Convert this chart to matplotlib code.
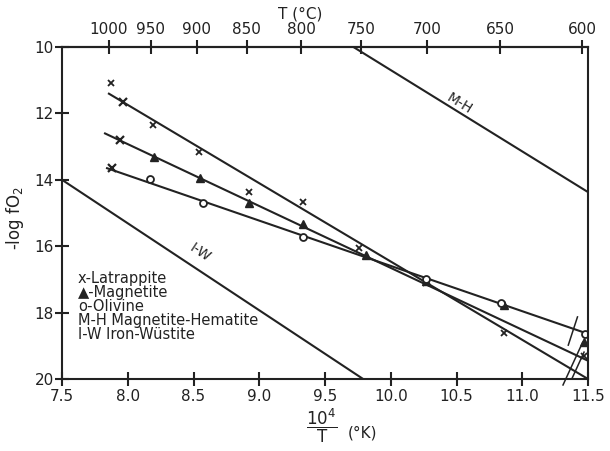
import matplotlib
matplotlib.use("Agg")
from matplotlib import pyplot as plt
import numpy as np

plt.rcParams['font.family'] = ['DejaVu Sans']
plt.rcParams['mathtext.default'] = 'regular'

# measured points, x = 10^4/T (K), y = -log fO2
latr_x = [7.87, 8.19, 8.54, 8.92, 9.33, 9.755, 10.27, 10.86, 11.47]
latr_y = [11.08, 12.35, 13.16, 14.37, 14.67, 16.06, 17.1, 18.61, 19.3]
mag_x = [8.2, 8.55, 8.92, 9.33, 9.81, 10.27, 10.86, 11.47]
mag_y = [13.31, 13.95, 14.7, 15.33, 16.27, 17.05, 17.77, 18.9]
oliv_x = [8.17, 8.57, 9.33, 10.27, 10.84, 11.48]
oliv_y = [13.98, 14.7, 15.73, 17.0, 17.72, 18.64]
# crosses at the hot end of each fit
cross_x = [7.965, 7.94, 7.88]
cross_y = [11.66, 12.8, 13.64]

# fitted lines (end points)
latr_fit_x = [7.85, 11.5]
latr_fit_y = [11.39, 20.0]
mag_fit_x = [7.82, 11.5]
mag_fit_y = [12.59, 19.45]
oliv_fit_x = [7.835, 11.5]
oliv_fit_y = [13.64, 18.64]

# buffers
mh_x = [9.716, 11.5]
mh_y = [10.0, 14.37]
iw_x = [7.5, 9.79]
iw_y = [14.0, 20.0]

# slanted error bars at 600 C
err_x = [[11.42, 11.35], [11.46, 11.31], [11.47, 11.38]]
err_y = [[18.13, 18.98], [18.89, 20.18], [19.19, 19.97]]

t_ticks = [1000, 950, 900, 850, 800, 750, 700, 650, 600]
x_ticks = [7.5, 8.0, 8.5, 9.0, 9.5, 10.0, 10.5, 11.0, 11.5]
y_ticks = [10, 12, 14, 16, 18, 20]

legend_lines = ['x-Latrappite', '\u25b2-Magnetite', 'o-Olivine',
                'M-H Magnetite-Hematite', 'I-W Iron-W\u00fcstite']

fig = plt.figure(figsize=(6.1, 4.51), dpi=100)
ax = fig.add_axes([62/610, 1-379/451, 526/610, 332/451])
lw = 1.5
k = '#222222'

ax.plot(latr_fit_x, latr_fit_y, color=k, lw=lw, solid_capstyle='butt')
ax.plot(mag_fit_x, mag_fit_y, color=k, lw=lw, solid_capstyle='butt')
ax.plot(oliv_fit_x, oliv_fit_y, color=k, lw=lw, solid_capstyle='butt')
ax.plot(mh_x, mh_y, color=k, lw=lw)
ax.plot(iw_x, iw_y, color=k, lw=lw)
for ex, ey in zip(err_x, err_y):
    ax.plot(ex, ey, color=k, lw=1.1, clip_on=False)

ax.plot(latr_x, latr_y, ls='none', marker='x', ms=5, mew=1.3, color=k)
ax.plot(mag_x, mag_y, ls='none', marker='^', ms=6, color=k)
ax.plot(oliv_x, oliv_y, ls='none', marker='o', ms=5, mfc='white', mew=1.3, color=k)
ax.plot(cross_x, cross_y, ls='none', marker='x', ms=6, mew=1.6, color=k)

ax.text(10.52, 11.7, 'M-H', rotation=-31.5, fontsize=10, ha='center', va='center', color=k)
ax.text(8.55, 16.2, 'I-W', rotation=-33.5, fontsize=10, ha='center', va='center', color=k)

ax.text(7.62, 16.75, '\n'.join(legend_lines), fontsize=10.5, ha='left', va='top',
        linespacing=0.92, color=k)

ax.set_xlim(7.5, 11.5)
ax.set_ylim(20, 10)
ax.set_xticks(x_ticks)
ax.set_xticklabels(['%.1f' % v for v in x_ticks])
ax.set_yticks(y_ticks)
for s in ax.spines.values():
    s.set_linewidth(lw)
    s.set_color(k)
ax.tick_params(direction='inout', length=10, width=lw, labelsize=11, colors=k)
ax.tick_params(axis='x', pad=2)
ax.tick_params(axis='y', pad=1)

sec = ax.secondary_xaxis('top', functions=(lambda x: 1e4/np.asarray(x, float) - 273,
                                            lambda c: 1e4/(np.asarray(c, float) + 273)))
sec.set_xticks(t_ticks)
sec.spines['top'].set_linewidth(lw)
sec.tick_params(direction='inout', length=10, width=lw, labelsize=11, colors=k, pad=2)

fig.text(300/610, 1-14/451, 'T (\u00b0C)', fontsize=11, ha='center', va='center', color=k)
fig.text(15/610, 1-218/451, '-log fO$_2$', fontsize=12, rotation=90, ha='center', va='center', color=k)
fig.text(322/610, 1-426/451, r'$\dfrac{10^4}{T}$', fontsize=12, ha='center', va='center', color=k)
fig.text(348/610, 1-433/451, '(\u00b0K)', fontsize=11, ha='left', va='center', color=k)

fig.savefig('out.png', dpi=100)
